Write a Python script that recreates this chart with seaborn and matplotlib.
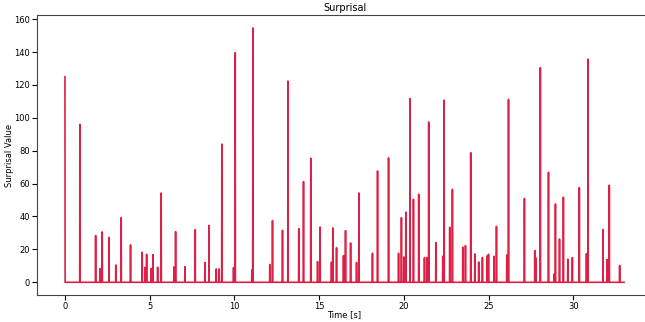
import numpy as np
import pandas as pd
import matplotlib
matplotlib.use("Agg")
import matplotlib.pyplot as plt
import seaborn as sns

# Spike times (s) and surprisal values
spike_times = [0.00, 0.88, 1.81, 2.08, 2.20, 2.60, 3.00, 3.32, 3.87, 4.56, 4.74, 4.82,
               5.09, 5.19, 5.47, 5.68, 6.43, 6.53, 7.08, 7.69, 8.26, 8.50, 8.93, 9.10,
               9.26, 9.95, 10.05, 11.03, 11.09, 12.09, 12.25, 12.84, 13.16, 13.80, 14.08,
               14.51, 14.91, 15.06, 15.73, 15.81, 16.03, 16.44, 16.56, 16.86, 17.21, 17.35,
               18.15, 18.45, 19.10, 19.69, 19.86, 20.00, 20.12, 20.37, 20.57, 20.88, 21.22,
               21.36, 21.47, 21.89, 22.30, 22.38, 22.71, 22.87, 23.48, 23.64, 23.95, 24.19,
               24.42, 24.64, 24.92, 25.00, 25.33, 25.47, 26.08, 26.18, 27.12, 27.73, 27.80,
               28.06, 28.54, 28.87, 28.95, 29.19, 29.42, 29.68, 29.95, 30.36, 30.78, 30.87,
               31.76, 31.99, 32.13, 32.74]
spike_values = [125.0, 96.0, 28.4, 8.3, 30.6, 27.2, 10.5, 39.3, 22.7, 18.2, 9.1, 17.0,
                8.3, 16.8, 9.1, 54.3, 9.3, 30.8, 9.5, 32.0, 12.0, 34.5, 8.1, 8.1,
                84.0, 8.9, 139.6, 7.5, 154.6, 10.8, 37.5, 31.6, 122.3, 32.6, 61.2,
                75.4, 12.6, 33.6, 12.2, 33.0, 21.0, 16.2, 31.4, 23.9, 12.0, 54.3,
                17.6, 67.7, 75.6, 17.6, 39.3, 15.4, 42.7, 111.7, 50.5, 53.5, 15.0,
                15.0, 97.4, 24.1, 15.8, 110.7, 33.4, 56.5, 21.3, 22.3, 78.8, 17.2,
                12.3, 15.0, 16.0, 17.0, 15.8, 34.0, 16.6, 111.2, 50.9, 19.3, 14.8,
                130.5, 66.9, 4.9, 47.6, 26.3, 51.7, 14.0, 15.0, 57.6, 17.4, 135.7,
                32.0, 13.8, 59.0, 10.2]
t_start, t_end, t_step = 0.0, 33.0, 0.01

# Build the time series: zero baseline with surprisal spikes
grid = np.round(np.arange(t_start, t_end + t_step / 2, t_step), 2)
series = pd.Series(0.0, index=grid)
for t, v in zip(spike_times, spike_values):
    series.loc[round(t, 2)] = v
df = pd.DataFrame({"Time [s]": series.index, "Surprisal Value": series.values})

plt.rcParams["font.family"] = ["DejaVu Sans"]
fig = plt.figure(figsize=(6.45, 3.22), dpi=100)
ax = fig.add_axes([37 / 645, 27 / 322, (652 - 37) / 645, (295 - 15.3) / 322])
sns.lineplot(data=df, x="Time [s]", y="Surprisal Value", color="crimson",
             linewidth=1.2, alpha=0.95, ax=ax)
ax.set_title("Surprisal", fontsize=7, pad=3)
ax.set_xlabel("Time [s]", fontsize=6)
ax.set_ylabel("Surprisal Value", fontsize=6)
ax.xaxis.set_label_coords(0.5 - 0 * 1, -0.054)
ax.yaxis.set_label_coords(-0.038, 0.5)
ax.tick_params(labelsize=6, length=3.5, pad=1.5)
ax.set_xticks([0, 5, 10, 15, 20, 25, 30])
ax.set_yticks(range(0, 161, 20))
for s in ax.spines.values():
    s.set_linewidth(0.8)
    s.set_color("#444444")
fig.savefig("out.png", dpi=100)
